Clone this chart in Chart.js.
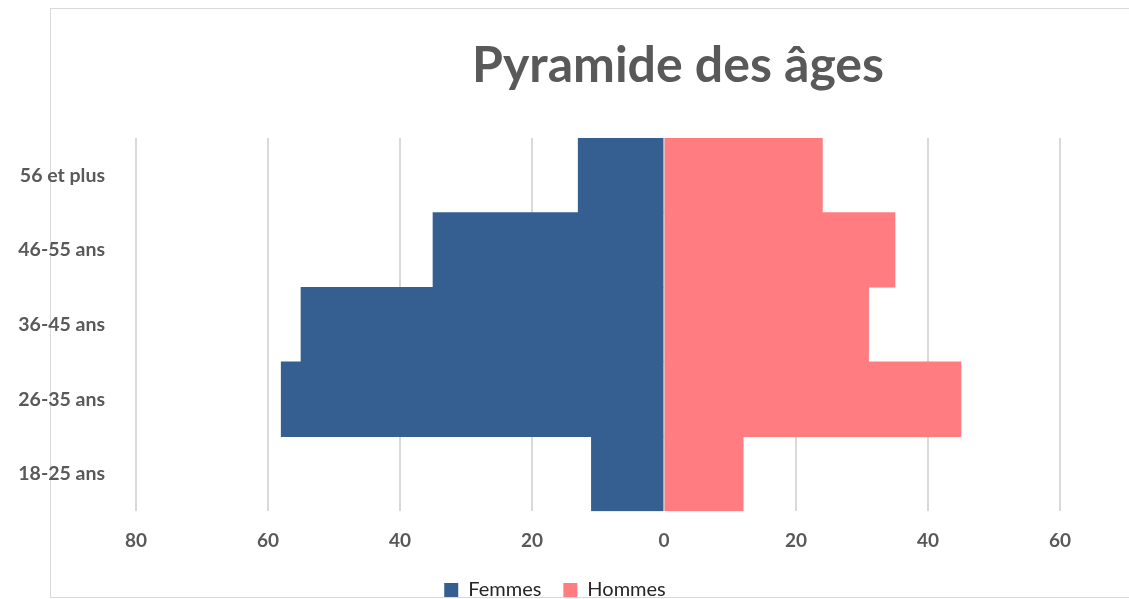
<!DOCTYPE html>
<html lang="fr">
<head>
<meta charset="utf-8">
<script src="https://cdn.jsdelivr.net/npm/chart.js@4"></script>
<style>
    html, body { margin: 0; padding: 0; background: #fff; overflow: hidden; }
    body { width: 1129px; height: 599px; position: relative; }
    .cadre {
        position: absolute; left: 50px; top: 8px; width: 1200px; height: 590px;
        border: 1px solid #d9d9d9; box-sizing: border-box;
    }
    .titre {
        position: absolute; left: 678px; top: 33px; transform: translateX(-50%);
        font: bold 50px Lato, sans-serif; color: #595959; white-space: nowrap;
    }
    .zone { position: absolute; left: 0; top: 0; width: 1160px; height: 610px; }
</style>
</head>
<body>
<div class="cadre"></div>
<div class="zone"><canvas id="graphiquePyramide"></canvas></div>
<div class="titre">Pyramide des âges</div>
<script>
// Données
const tranchesAge = ['18-25 ans', '26-35 ans', '36-45 ans', '46-55 ans', '56 et plus'];
const femmes = [11, 58, 55, 35, 13];
const hommes = [12, 45, 31, 35, 24];

const grisTexte = '#595959';

// décale la légende vers la droite comme dans l'original
const decalageLegende = {
    id: 'decalageLegende',
    afterLayout(chart) {
        chart.legend.left += 25;
        chart.legend.right += 25;
    }
};

const ctx = document.getElementById('graphiquePyramide').getContext('2d');

new Chart(ctx, {
    type: 'bar',
    data: {
        labels: tranchesAge,
        datasets: [
            {
                label: 'Femmes',
                data: femmes.map(v => -v),
                backgroundColor: '#365f91',
                barPercentage: 1,
                categoryPercentage: 1
            },
            {
                label: 'Hommes',
                data: hommes,
                backgroundColor: '#ff7c80',
                barPercentage: 1,
                categoryPercentage: 1
            }
        ]
    },
    options: {
        indexAxis: 'y',
        responsive: true,
        maintainAspectRatio: false,
        animation: false,
        layout: { padding: { top: 138, right: 100, bottom: 0, left: 0 } },
        scales: {
            x: {
                stacked: true,
                min: -80,
                max: 60,
                border: { display: false },
                grid: { color: '#d9d9d9', lineWidth: 2, drawTicks: false },
                afterFit: scale => { scale.height -= 12; },
                ticks: {
                    stepSize: 20,
                    padding: 18,
                    color: grisTexte,
                    font: { family: 'Lato, sans-serif', size: 19, weight: 'bold' },
                    callback: v => Math.abs(v)
                }
            },
            y: {
                stacked: true,
                reverse: true,
                border: { display: false },
                grid: { display: false, drawTicks: false },
                afterFit: scale => { scale.width = 136; },
                ticks: {
                    padding: 31,
                    color: grisTexte,
                    font: { family: 'Lato, sans-serif', size: 19.5, weight: 'bold' }
                }
            }
        },
        plugins: {
            tooltip: { enabled: false },
            legend: {
                position: 'bottom',
                labels: {
                    boxWidth: 14,
                    boxHeight: 14,
                    padding: 22,
                    color: '#262626',
                    font: { family: 'Lato, sans-serif', size: 20 }
                }
            }
        }
    },
    plugins: [decalageLegende]
});
</script>
</body>
</html>
